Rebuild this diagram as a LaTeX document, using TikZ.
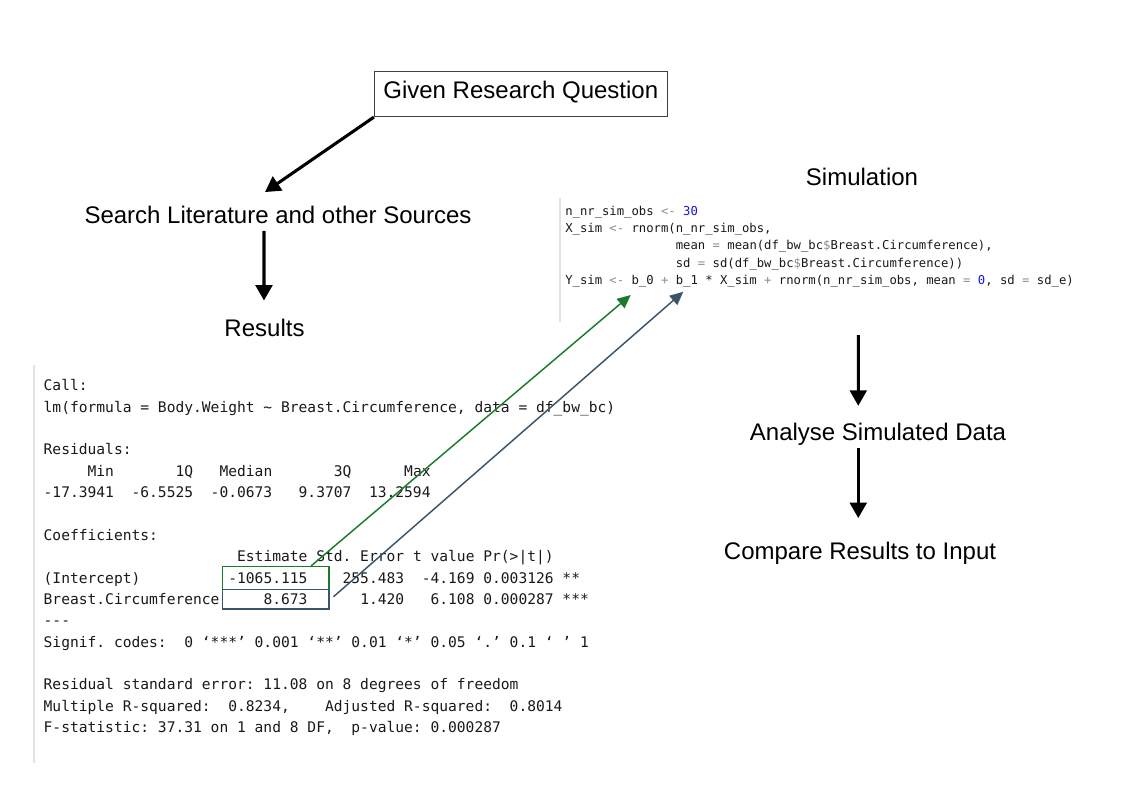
\documentclass[tikz,border=0pt]{standalone}
\usepackage{fontspec}
\setmainfont{Liberation Sans}
\setmonofont{DejaVu Sans Mono}
\usetikzlibrary{arrows.meta}
\definecolor{simgreen}{RGB}{28,122,44}
\definecolor{simblue}{RGB}{58,84,107}
\definecolor{codebar}{RGB}{226,226,226}
\definecolor{codeop}{RGB}{140,140,140}
\definecolor{codenum}{RGB}{20,20,210}
\definecolor{codetext}{RGB}{25,25,25}
\newcommand{\rop}[1]{\textcolor{codeop}{#1}}
\newcommand{\rnum}[1]{\textcolor{codenum}{#1}}
\newcommand{\colgap}[1]{\hspace*{#1\fontcharwd\font`0}}

\begin{document}
\begin{tikzpicture}[x=0.75pt,y=-0.75pt,
  flowtext/.style={font=\fontsize{18}{22}\selectfont,inner sep=0pt,text height=13pt,text depth=0pt},
  qbox/.style={flowtext,text depth=6pt,draw=black!75,line width=0.6pt,minimum width=219.75pt,minimum height=33.75pt},
  routput/.style={font=\fontsize{10.955}{13}\ttfamily\frenchspacing,text=codetext,anchor=base west,inner sep=0pt},
  rcode/.style={font=\fontsize{9.18}{11}\ttfamily\frenchspacing,text=codetext,anchor=base west,inner sep=0pt},
  estbox/.style={draw,line width=1.1pt,inner sep=0pt,minimum width=79.7pt},
  flowarrow/.style={line width=2.3pt,-{Triangle[length=11.5pt,width=12.5pt]}},
  linkarrow/.style={line width=1.1pt,-{Triangle[length=10pt,width=9pt]}}]
  \useasboundingbox (0,0) rectangle (1123,794);

  % flow labels
  \node[qbox] (question) at (520.8,94.2) {Given Research Question};
  \node[flowtext] (search) at (278,215) {Search Literature and other Sources};
  \node[flowtext] (results) at (264.5,327.7) {Results};
  \node[flowtext] (simulation) at (862,177) {Simulation};
  \node[flowtext] (analyse) at (878,431.7) {Analyse Simulated Data};
  \node[flowtext] (compare) at (860,551) {Compare Results to Input};

  % R output of the fitted model
  \draw[codebar,line width=1.5pt] (34.3,365) -- (34.3,763);
  \foreach \k/\txt in {0/{Call:},
      1/{lm(formula = Body.Weight \textasciitilde{} Breast.Circumference, data = df\_bw\_bc)},
      3/{Residuals:},
      4/{\colgap{5}Min\colgap{7}1Q\colgap{3}Median\colgap{7}3Q\colgap{6}Max},
      5/{-17.3941\colgap{2}-6.5525\colgap{2}-0.0673\colgap{3}9.3707\colgap{2}13.2594},
      7/{Coefficients:},
      8/{\colgap{22}Estimate Std. Error t value Pr(>|t|)},
      9/{(Intercept)\colgap{10}-1065.115\colgap{4}255.483\colgap{2}-4.169 0.003126 **},
      10/{Breast.Circumference\colgap{5}8.673\colgap{6}1.420\colgap{3}6.108 0.000287 ***},
      11/{-{}-{}-},
      12/{Signif. codes:\colgap{2}0 ‘***’ 0.001 ‘**’ 0.01 ‘*’ 0.05 ‘.’ 0.1 ‘ ’ 1},
      14/{Residual standard error: 11.08 on 8 degrees of freedom},
      15/{Multiple R-squared:\colgap{2}0.8234,\colgap{4}Adjusted R-squared:\colgap{2}0.8014},
      16/{F-statistic: 37.31 on 1 and 8 DF,\colgap{2}p-value: 0.000287}}
    \node[routput] (out\k) at (43.4,{390.9+21.35*\k}) {\txt};

  % simulation code
  \draw[codebar,line width=1.5pt] (560,198) -- (560,322);
  \foreach \k/\txt in {0/{n\_nr\_sim\_obs \rop{<-} \rnum{30}},
      1/{X\_sim \rop{<-} rnorm(n\_nr\_sim\_obs,},
      2/{\colgap{15}mean \rop{=} mean(df\_bw\_bc\rop{\$}Breast.Circumference),},
      3/{\colgap{15}sd \rop{=} sd(df\_bw\_bc\rop{\$}Breast.Circumference))},
      4/{Y\_sim \rop{<-} b\_0 \rop{+} b\_1 * X\_sim \rop{+} rnorm(n\_nr\_sim\_obs, mean \rop{=} \rnum{0}, sd \rop{=} sd\_e)}}
    \node[rcode] (code\k) at (565,{215.1+17.33*\k}) {\txt};

  % estimates handed to the simulation
  \node[estbox,draw=simgreen,minimum height=16.95pt] (b0box) at (275.85,578) {};
  \node[estbox,draw=simblue,minimum height=14.8pt] (b1box) at (275.85,599.15) {};
  \coordinate (b0tip) at (630.7,295);
  \coordinate (b1tip) at (683.3,291.7);
  \draw[linkarrow,simgreen] ([xshift=26.4pt]b0box.north) -- (b0tip);
  \draw[linkarrow,simblue] ([xshift=2.8pt,yshift=1.8pt]b1box.east) -- (b1tip);

  % flow arrows
  \coordinate (codeend) at (858.3,335);
  \draw[flowarrow] (question.south west) -- ([xshift=-9.75pt,yshift=10.5pt]search.north);
  \draw[flowarrow] ([xshift=-10.5pt,yshift=-5.25pt]search.south) -- ([xshift=-0.4pt,yshift=13.7pt]results.north);
  \draw[flowarrow] (codeend) -- ([xshift=-14.8pt,yshift=12.75pt]analyse.north);
  \draw[flowarrow] ([xshift=-14.8pt,yshift=-5.7pt]analyse.south) -- ([xshift=-1.3pt,yshift=18pt]compare.north);
\end{tikzpicture}
\end{document}
